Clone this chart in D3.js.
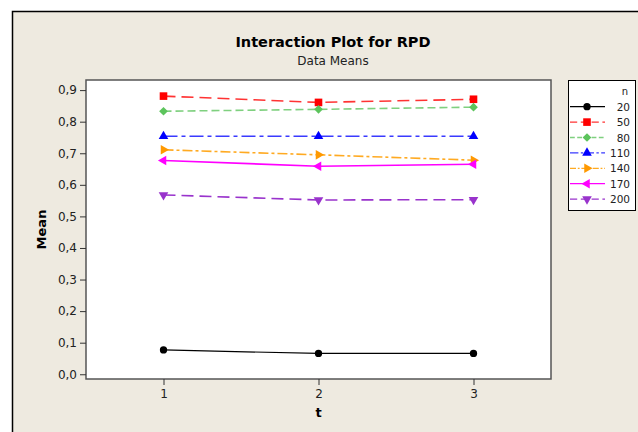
<!DOCTYPE html>
<html>
<head>
<meta charset="utf-8">
<script src="https://cdn.jsdelivr.net/npm/d3@7"></script>
<style>
  body { margin: 0; background: #fff; }
  svg { display: block; font-family: "DejaVu Sans", Verdana, sans-serif; }
</style>
</head>
<body>
<div id="chart"></div>
<script>
// t levels on the x axis
var tLevels = [1, 2, 3];

// one series per n level, means
var n20  = [0.077, 0.066, 0.066];
var n50  = [0.881, 0.861, 0.871];
var n80  = [0.833, 0.839, 0.846];
var n110 = [0.754, 0.754, 0.754];
var n140 = [0.711, 0.695, 0.678];
var n170 = [0.677, 0.659, 0.665];
var n200 = [0.568, 0.552, 0.553];

var nLabels = ["20", "50", "80", "110", "140", "170", "200"];
var yTicks = [0, 0.1, 0.2, 0.3, 0.4, 0.5, 0.6, 0.7, 0.8, 0.9];

var width = 638, height = 432;

var series = [
  { name: nLabels[0], values: n20,  color: "#000000", line: "#000000", dash: null,       shape: "circle" },
  { name: nLabels[1], values: n50,  color: "#ff0000", line: "#ff3333", dash: "12,6",     shape: "square" },
  { name: nLabels[2], values: n80,  color: "#5cc45c", line: "#7fd07f", dash: "8,4",      shape: "diamond" },
  { name: nLabels[3], values: n110, color: "#0000ff", line: "#3a3aff", dash: "14,4,4,4", shape: "up" },
  { name: nLabels[4], values: n140, color: "#ff9900", line: "#ffaa22", dash: "10,3,3,3", shape: "right" },
  { name: nLabels[5], values: n170, color: "#ff00ff", line: "#ff00ff", dash: null,       shape: "left" },
  { name: nLabels[6], values: n200, color: "#9933cc", line: "#9933cc", dash: "12,6",     shape: "down" }
];

var svg = d3.select("#chart").append("svg")
    .attr("width", width)
    .attr("height", height);

// beige panel with outer frame
svg.append("rect")
    .attr("x", 12.5).attr("y", 11.5)
    .attr("width", 700).attr("height", 500)
    .attr("fill", "#eeeae0")
    .attr("stroke", "#000")
    .attr("stroke-width", 1.5);

var plot = { left: 86, top: 80, right: 551, bottom: 379 };

var x = d3.scaleLinear().domain([0.5, 3.5]).range([plot.left, plot.right]);
var y = d3.scaleLinear().domain([-0.015, 0.932]).range([plot.bottom, plot.top]);

svg.append("rect")
    .attr("x", plot.left).attr("y", plot.top)
    .attr("width", plot.right - plot.left)
    .attr("height", plot.bottom - plot.top)
    .attr("fill", "#fff")
    .attr("stroke", "#555")
    .attr("stroke-width", 1.5);

var fmt = function(d) { return d3.format(".1f")(d).replace(".", ","); };

var yAxis = svg.append("g")
    .attr("transform", "translate(" + plot.left + ",0)")
    .call(d3.axisLeft(y).tickValues(yTicks).tickFormat(fmt).tickSize(6).tickPadding(3));
yAxis.select(".domain").remove();

var xAxis = svg.append("g")
    .attr("transform", "translate(0," + plot.bottom + ")")
    .call(d3.axisBottom(x).tickValues(tLevels).tickFormat(d3.format("d")).tickSize(6).tickPadding(4));
xAxis.select(".domain").remove();

svg.selectAll(".tick text")
    .attr("font-family", "DejaVu Sans, Verdana, sans-serif")
    .attr("font-size", 12)
    .attr("fill", "#222");
svg.selectAll(".tick line").attr("stroke", "#333");

// titles
svg.append("text")
    .attr("x", 333).attr("y", 47)
    .attr("text-anchor", "middle")
    .attr("font-size", 14.5)
    .attr("font-weight", "bold")
    .text("Interaction Plot for RPD");

svg.append("text")
    .attr("x", 333).attr("y", 65)
    .attr("text-anchor", "middle")
    .attr("font-size", 12)
    .attr("fill", "#222")
    .text("Data Means");

svg.append("text")
    .attr("x", x(2)).attr("y", 417)
    .attr("text-anchor", "middle")
    .attr("font-size", 13)
    .attr("font-weight", "bold")
    .text("t");

svg.append("text")
    .attr("transform", "translate(46," + ((plot.top + plot.bottom) / 2) + ") rotate(-90)")
    .attr("text-anchor", "middle")
    .attr("font-size", 13)
    .attr("font-weight", "bold")
    .text("Mean");

// marker shapes
var rot = { circle: 0, square: 0, diamond: 45, up: 0, right: 90, down: 180, left: -90 };
function marker(shape, k) {
  if (shape === "circle") return d3.symbol().type(d3.symbolCircle).size(42 * k)();
  if (shape === "square") return d3.symbol().type(d3.symbolSquare).size(58 * k)();
  if (shape === "diamond") return d3.symbol().type(d3.symbolSquare).size(38 * k)();
  return d3.symbol().type(d3.symbolTriangle).size(40 * k)();
}
function place(shape, px, py) {
  return "translate(" + px + "," + py + ") rotate(" + rot[shape] + ")";
}

var line = d3.line()
    .x(function(d, i) { return x(tLevels[i]); })
    .y(function(d) { return y(d); });

var groups = svg.append("g").selectAll("g")
    .data(series)
    .enter().append("g");

groups.append("path")
    .attr("d", function(d) { return line(d.values); })
    .attr("fill", "none")
    .attr("stroke", function(d) { return d.line; })
    .attr("stroke-width", function(d) { return d.name === "20" ? 1.2 : 1.6; })
    .attr("stroke-dasharray", function(d) { return d.dash; });

groups.each(function(s) {
  d3.select(this).selectAll("path.pt")
      .data(s.values)
      .enter().append("path")
      .attr("class", "pt")
      .attr("d", marker(s.shape, 1))
      .attr("fill", s.color)
      .attr("transform", function(d, i) { return place(s.shape, x(tLevels[i]), y(d)); });
});

// legend
var lg = svg.append("g").attr("transform", "translate(568,80)");
lg.append("rect")
    .attr("x", 0.5).attr("y", 0.5)
    .attr("width", 67).attr("height", 130)
    .attr("fill", "#fff")
    .attr("stroke", "#000");

lg.append("text")
    .attr("x", 60).attr("y", 15)
    .attr("text-anchor", "end")
    .attr("font-size", 10)
    .attr("fill", "#222")
    .text("n");

var row = lg.selectAll("g.row")
    .data(series)
    .enter().append("g")
    .attr("class", "row")
    .attr("transform", function(d, i) { return "translate(0," + (26.7 + i * 15.4) + ")"; });

row.append("line")
    .attr("x1", 2).attr("x2", 37)
    .attr("stroke", function(d) { return d.line; })
    .attr("stroke-width", 1.3)
    .attr("stroke-dasharray", function(d) { return d.dash ? d.dash.split(",").map(function(v) { return v * 0.6; }).join(",") : null; });

row.append("path")
    .attr("d", function(d) { return marker(d.shape, 1); })
    .attr("fill", function(d) { return d.color; })
    .attr("transform", function(d) { return place(d.shape, 19, 0); });

row.append("text")
    .attr("x", 62).attr("y", 4)
    .attr("text-anchor", "end")
    .attr("font-size", 10.5)
    .attr("fill", "#222")
    .text(function(d) { return d.name; });
</script>
</body>
</html>
